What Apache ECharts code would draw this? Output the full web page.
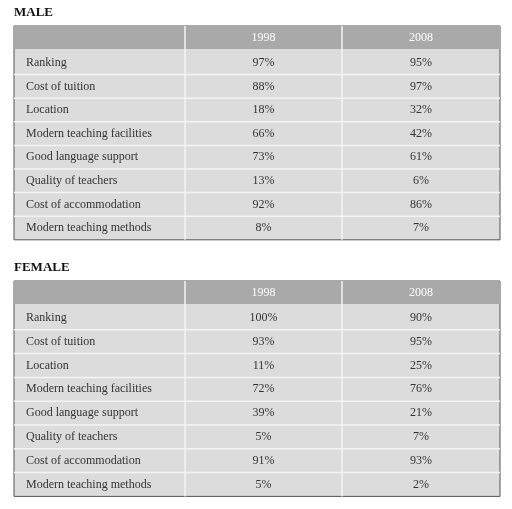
<!DOCTYPE html>
<html><head><meta charset="utf-8">
<script src="https://cdn.jsdelivr.net/npm/echarts@6/dist/echarts.min.js"></script>
<style>html,body{margin:0;padding:0;background:#fff}#c{width:512px;height:509px}</style>
</head><body><div id="c"></div>
<script>
// table data
var years = ['1998', '2008'];
var factors = ['Ranking', 'Cost of tuition', 'Location', 'Modern teaching facilities',
  'Good language support', 'Quality of teachers', 'Cost of accommodation', 'Modern teaching methods'];
var male1998 = [97, 88, 18, 66, 73, 13, 92, 8];
var male2008 = [95, 97, 32, 42, 61, 6, 86, 7];
var female1998 = [100, 93, 11, 72, 39, 5, 91, 5];
var female2008 = [90, 95, 25, 76, 21, 7, 93, 2];

var chart = echarts.init(document.getElementById('c'));
var font = '"Liberation Serif", "DejaVu Serif", serif';
var els = [];

function table(title, top, v1, v2, rowH) {
  var left = 14, right = 500, c1 = 185, c2 = 342;
  var headH = 23;
  var bottom = top + headH + 2 + rowH * factors.length;
  els.push({type: 'text', left: left, top: top - 20,
    style: {text: title, font: 'bold 13px ' + font, fill: '#111'}});
  // body
  els.push({type: 'rect', shape: {x: left, y: top, width: right - left, height: bottom - top},
    style: {fill: '#dcdcdc', stroke: '#555', lineWidth: 1}});
  // header
  els.push({type: 'rect', shape: {x: left, y: top, width: right - left, height: headH},
    style: {fill: '#a9a9a9'}});
  years.forEach(function (y, i) {
    var cx = i == 0 ? (c1 + c2) / 2 : (c2 + right) / 2;
    els.push({type: 'text', x: cx, y: top + headH / 2,
      style: {text: y, font: '12px ' + font, fill: '#fff', align: 'center', verticalAlign: 'middle'}});
  });
  // column dividers
  [c1, c2].forEach(function (x) {
    els.push({type: 'line', shape: {x1: x, y1: top, x2: x, y2: bottom},
      style: {stroke: '#f4f4f4', lineWidth: 1.5}});
  });
  factors.forEach(function (f, i) {
    var y0 = top + headH + 2 + i * rowH;
    if (i > 0) {
      els.push({type: 'line', shape: {x1: left, y1: y0, x2: right, y2: y0},
        style: {stroke: '#f4f4f4', lineWidth: 1.5}});
    }
    var cy = y0 + rowH / 2;
    els.push({type: 'text', x: left + 12, y: cy,
      style: {text: f, font: '12px ' + font, fill: '#333', verticalAlign: 'middle'}});
    els.push({type: 'text', x: (c1 + c2) / 2, y: cy,
      style: {text: v1[i] + '%', font: '12px ' + font, fill: '#333', align: 'center', verticalAlign: 'middle'}});
    els.push({type: 'text', x: (c2 + right) / 2, y: cy,
      style: {text: v2[i] + '%', font: '12px ' + font, fill: '#333', align: 'center', verticalAlign: 'middle'}});
  });
}

table('MALE', 26, male1998, male2008, 23.6);
table('FEMALE', 281, female1998, female2008, 23.8);

chart.setOption({animation: false, graphic: {elements: els}});
</script></body></html>
